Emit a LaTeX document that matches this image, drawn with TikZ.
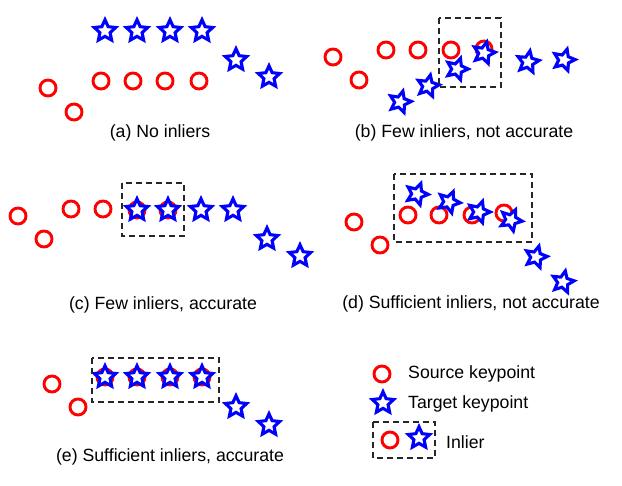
\documentclass[tikz,border=0pt]{standalone}
\usepackage{fontspec}
\setmainfont{Liberation Sans}
\usetikzlibrary{shapes.geometric}

\begin{document}
\begin{tikzpicture}[x=1pt,y=-1pt,
    src/.style={circle,draw=red,line width=2.9pt,minimum size=16pt,inner sep=0pt},
    tgt/.style={star,star points=5,star point ratio=2.1,draw=blue,fill=white,line width=3.1pt,minimum size=22.5pt,inner sep=0pt},
    inlierbox/.style={draw=black!85,line width=1.1pt,dash pattern=on 6pt off 4pt},
    caption/.style={font=\fontsize{17.7}{20}\selectfont,inner sep=0pt}]
    \useasboundingbox (0,0) rectangle (622,486);
    % (a)
    \draw
    (48,88) node[src] (a1){} (74,112) node[src] (a2){}
    (101,81) node[src] (a3){} (133,81) node[src] (a4){}
    (165,81) node[src] (a5){} (199,81) node[src] (a6){}
    (105,31) node[tgt] (at1){} (137,31) node[tgt] (at2){}
    (170,31) node[tgt] (at3){} (202,31) node[tgt] (at4){}
    (236,60) node[tgt] (at5){} (269,77) node[tgt] (at6){};
    \node[caption] (capa) at (160,133) {(a) No inliers};
    % (b)
    \draw
    (333,57) node[src] (b1){} (359,80) node[src] (b2){}
    (386,50) node[src] (b3){} (418,50) node[src] (b4){}
    (451,50) node[src] (b5){} (484,49) node[src] (b6){}
    (400,102) node[tgt,rotate=-15] (bt1){} (428,86) node[tgt,rotate=-12] (bt2){}
    (457,69) node[tgt,rotate=-18] (bt3){} (484,53) node[tgt,rotate=-14] (bt4){}
    (528,62) node[tgt,rotate=-10] (bt5){} (564,60) node[tgt,rotate=-16] (bt6){};
    \draw[inlierbox] (439,18) rectangle (501,87);
    \node[caption] (capb) at (464,133) {(b) Few inliers, not accurate};
    % (c)
    \draw
    (18,216) node[src] (c1){} (44,239) node[src] (c2){}
    (71,209) node[src] (c3){} (103,209) node[src] (c4){}
    (137,210) node[src] (c5){} (168,210) node[src] (c6){}
    (137,210) node[tgt] (ct1){} (168,210) node[tgt] (ct2){}
    (201,210) node[tgt] (ct3){} (233,210) node[tgt] (ct4){}
    (267,239) node[tgt] (ct5){} (300,256) node[tgt] (ct6){};
    \draw[inlierbox] (122,183) rectangle (184,236);
    \node[caption] (capc) at (163,305) {(c) Few inliers, accurate};
    % (d)
    \draw
    (354,222) node[src] (d1){} (380,245) node[src] (d2){}
    (408,215) node[src] (d3){} (439,215) node[src] (d4){}
    (472,215) node[src] (d5){} (504,213) node[src] (d6){}
    (417,194) node[tgt,rotate=-20] (dt1){} (449,202) node[tgt,rotate=-22] (dt2){}
    (479,212) node[tgt,rotate=-18] (dt3){} (511,220) node[tgt,rotate=-24] (dt4){}
    (536,257) node[tgt,rotate=-15] (dt5){} (563,282) node[tgt,rotate=-12] (dt6){};
    \draw[inlierbox] (394,174) rectangle (532,242);
    \node[caption] (capd) at (471,304) {(d) Sufficient inliers, not accurate};
    % (e)
    \draw
    (52,384) node[src] (e1){} (78,407) node[src] (e2){}
    (105,377) node[src] (e3){} (137,377) node[src] (e4){}
    (170,377) node[src] (e5){} (202,377) node[src] (e6){}
    (105,377) node[tgt] (et1){} (137,377) node[tgt] (et2){}
    (170,377) node[tgt] (et3){} (202,377) node[tgt] (et4){}
    (236,407) node[tgt] (et5){} (269,425) node[tgt] (et6){};
    \draw[inlierbox] (92,358) rectangle (219,402);
    \node[caption] (cape) at (170,457) {(e) Sufficient inliers, accurate};
    % legend
    \draw
    (382,374) node[src] (ls){} (383,403) node[tgt] (lt){}
    (390,440) node[src] (lis){} (419,438) node[tgt] (lit){};
    \draw[inlierbox] (373,422) rectangle (435,458);
    \node[caption,anchor=west] (lsl) at (408,374) {Source keypoint};
    \node[caption,anchor=west] (ltl) at (408,404) {Target keypoint};
    \node[caption,anchor=west] (lil) at (446,442) {Inlier};
\end{tikzpicture}
\end{document}
